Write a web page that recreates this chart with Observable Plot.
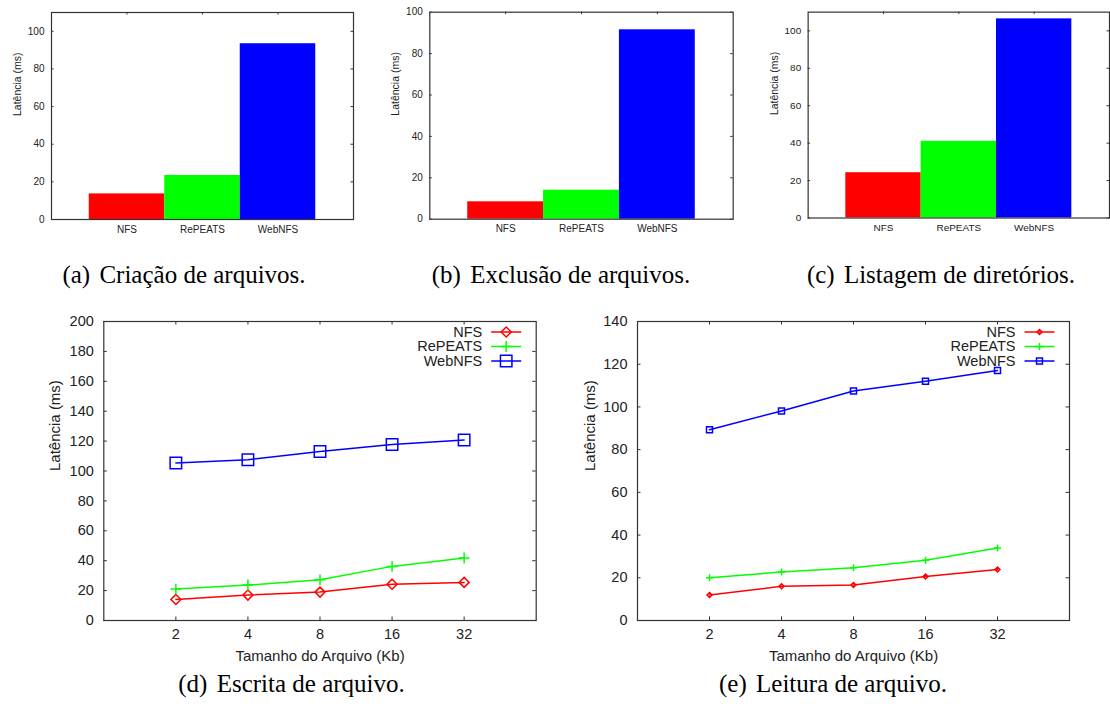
<!DOCTYPE html>
<html><head><meta charset="utf-8">
<script src="https://cdn.jsdelivr.net/npm/d3@7"></script>
<script src="https://cdn.jsdelivr.net/npm/@observablehq/plot@0.6"></script>
<style>
html,body{margin:0;padding:0;background:#fff;overflow:hidden;}
#root{position:relative;width:1110px;height:706px;overflow:hidden;}
.panel{position:absolute;}
.panel svg{overflow:visible;}
.cap{position:absolute;font-family:"Liberation Serif","Times New Roman",serif;font-size:25px;color:#000;white-space:nowrap;transform:translateX(-50%);line-height:25px;}
.cap span{margin-right:3px;}
</style></head><body><div id="root"></div>
<script>
// ---- data ----
const systems = ["NFS", "RePEATS", "WebNFS"];
const colors = ["#ff0000", "#00ff00", "#0000ff"];
const creationLatency = [13.6, 23.4, 93.4];
const deletionLatency = [8.4, 14.0, 91.5];
const listingLatency = [24.2, 41.0, 106.4];
const barTicks = [0, 20, 40, 60, 80, 100];

const fileSizes = [2, 4, 8, 16, 32];
const writeNFS = [14.1, 17.0, 19.0, 24.3, 25.5];
const writeRePEATS = [21.0, 23.7, 27.2, 36.2, 41.8];
const writeWebNFS = [105.3, 107.5, 113.0, 117.7, 120.7];
const readNFS = [11.9, 16.0, 16.6, 20.6, 23.9];
const readRePEATS = [20.0, 22.7, 24.7, 28.2, 33.9];
const readWebNFS = [89.3, 98.1, 107.5, 112.0, 117.1];
const writeTicks = [0, 20, 40, 60, 80, 100, 120, 140, 160, 180, 200];
const readTicks = [0, 20, 40, 60, 80, 100, 120, 140];

const yLabel = "Latência (ms)";
const xLabel = "Tamanho do Arquivo (Kb)";
const captionTags = ["(a)", "(b)", "(c)", "(d)", "(e)"];
const captionTexts = ["Criação de arquivos.", "Exclusão de arquivos.", "Listagem de diretórios.", "Escrita de arquivo.", "Leitura de arquivo."];

// ---- helpers ----
const root = document.getElementById("root");
const sans = "'Liberation Sans', Arial, Helvetica, sans-serif";
const ink = "#333";

function place(node, left, top) {
  const d = document.createElement("div");
  d.className = "panel";
  d.style.left = left + "px";
  d.style.top = top + "px";
  d.appendChild(node);
  root.appendChild(d);
}

function barPanel(values, yMax, box, m) {
  const pw = box.w - m.l - m.r, ph = box.h - m.t - m.b;
  const idx = systems.map((_, i) => i);
  const tl = 2.5;
  const chart = Plot.plot({
    width: box.w, height: box.h,
    marginTop: m.t, marginRight: m.r, marginBottom: m.b, marginLeft: m.l,
    style: {fontFamily: sans, fontSize: "10px", color: "#222", background: "transparent", overflow: "visible"},
    x: {type: "linear", domain: [-1, 3]},
    y: {domain: [0, yMax]},
    color: {type: "identity"},
    marks: [
      Plot.rectY(idx, {x1: i => i - 0.5, x2: i => i + 0.5, y1: 0, y2: i => values[i], fill: i => colors[i]}),
      Plot.tickY(barTicks, {y: d => d, insetRight: pw - tl, stroke: ink}),
      Plot.tickY(barTicks, {y: d => d, insetLeft: pw - tl, stroke: ink}),
      Plot.tickX(idx, {x: d => d, insetBottom: ph - tl, stroke: ink}),
      Plot.frame({stroke: ink, strokeWidth: 1.2}),
      Plot.axisY(barTicks, {tickSize: 0, tickPadding: 7, label: null, fontSize: 10}),
      Plot.axisX(idx, {tickSize: 0, tickPadding: 6, tickFormat: i => systems[i], label: null, fontSize: 10}),
      Plot.text([yLabel], {text: d => d, frameAnchor: "left", lineAnchor: "middle", rotate: -90, dx: -34, fontSize: 10.5})
    ]
  });
  place(chart, box.x, box.y);
}

const legendLine = {draw(ctx) { ctx.moveTo(-15, 0); ctx.lineTo(15, 0); }};

function linePanel(series, yMax, yTicks, box, m, lw) {
  const pw = box.w - m.l - m.r, ph = box.h - m.t - m.b;
  const tl = 3.5;
  const marks = [];
  series.forEach(s => {
    marks.push(Plot.line(fileSizes, {x: d => d, y: (d, i) => s.values[i], stroke: s.color, strokeWidth: lw}));
  });
  series.forEach(s => {
    marks.push(Plot.dot(fileSizes, {x: d => d, y: (d, i) => s.values[i], symbol: s.symbol, r: s.r, stroke: s.color, strokeWidth: lw, fill: "none"}));
  });
  series.forEach((s, k) => {
    const dy = 10.5 + 14.5 * k;
    marks.push(Plot.text([s.name], {text: d => d, frameAnchor: "top-right", lineAnchor: "middle", textAnchor: "end", dx: -54, dy, fontSize: 14.5, fill: "#222"}));
    marks.push(Plot.dot([s.name], {frameAnchor: "top-right", dx: -30, dy, symbol: legendLine, r: 1, stroke: s.color, strokeWidth: lw, fill: "none"}));
    marks.push(Plot.dot([s.name], {frameAnchor: "top-right", dx: -30, dy, symbol: s.symbol, r: s.r, stroke: s.color, strokeWidth: lw, fill: "none"}));
  });
  marks.push(
    Plot.tickY(yTicks, {y: d => d, insetRight: pw - tl, stroke: ink}),
    Plot.tickY(yTicks, {y: d => d, insetLeft: pw - tl, stroke: ink}),
    Plot.tickX(fileSizes, {x: d => d, insetBottom: ph - tl, stroke: ink}),
    Plot.tickX(fileSizes, {x: d => d, insetTop: ph - tl, stroke: ink}),
    Plot.frame({stroke: ink, strokeWidth: 1.2}),
    Plot.axisY(yTicks, {tickSize: 0, tickPadding: 10, label: null, fontSize: 14.5}),
    Plot.axisX(fileSizes, {tickSize: 0, tickPadding: 8, tickFormat: d => String(d), label: null, fontSize: 14.5}),
    Plot.text([yLabel], {text: d => d, frameAnchor: "left", lineAnchor: "middle", rotate: -90, dx: m.yl, fontSize: 15, fill: "#222"}),
    Plot.text([xLabel], {text: d => d, frameAnchor: "bottom", lineAnchor: "middle", dy: 36, fontSize: 15, fill: "#222"})
  );
  const chart = Plot.plot({
    width: box.w, height: box.h,
    marginTop: m.t, marginRight: m.r, marginBottom: m.b, marginLeft: m.l,
    style: {fontFamily: sans, fontSize: "14px", color: "#222", background: "transparent", overflow: "visible"},
    x: {type: "log", base: 2, domain: [1, 64]},
    y: {domain: [0, yMax]},
    marks
  });
  place(chart, box.x, box.y);
}

// ---- top row: bar charts ----
barPanel(creationLatency, 110, {x: 0, y: 0, w: 370, h: 240}, {t: 12, r: 17, b: 21, l: 51});
barPanel(deletionLatency, 100, {x: 370, y: 0, w: 370, h: 240}, {t: 11.7, r: 7.3, b: 21.3, l: 59.3});
barPanel(listingLatency, 110, {x: 740, y: 0, w: 372, h: 240}, {t: 11.7, r: 1, b: 21.3, l: 68});

// ---- bottom row: line charts ----
linePanel([
  {name: "NFS", values: writeNFS, color: "#ff0000", symbol: "diamond2", r: 4.5},
  {name: "RePEATS", values: writeRePEATS, color: "#00ff00", symbol: "plus", r: 3.6},
  {name: "WebNFS", values: writeWebNFS, color: "#0000ff", symbol: "square2", r: 7.3}
], 200, writeTicks, {x: 0, y: 300, w: 555, h: 380}, {t: 21, r: 19.3, b: 60, l: 103.3, yl: -49}, 1.5);

linePanel([
  {name: "NFS", values: readNFS, color: "#ff0000", symbol: "diamond2", r: 2.2},
  {name: "RePEATS", values: readRePEATS, color: "#00ff00", symbol: "plus", r: 2.4},
  {name: "WebNFS", values: readWebNFS, color: "#0000ff", symbol: "square2", r: 3.8}
], 140, readTicks, {x: 555, y: 300, w: 555, h: 380}, {t: 21, r: 41, b: 60, l: 82, yl: -47.6}, 1.5);

// ---- captions ----
const capPos = [[184, 262], [561, 262], [941, 262], [291.5, 671], [833, 671]];
captionTags.forEach((tag, i) => {
  const c = document.createElement("div");
  c.className = "cap";
  c.style.left = capPos[i][0] + "px";
  c.style.top = capPos[i][1] + "px";
  const s = document.createElement("span");
  s.textContent = tag;
  c.appendChild(s);
  c.appendChild(document.createTextNode(" " + captionTexts[i]));
  root.appendChild(c);
});
</script></body></html>
